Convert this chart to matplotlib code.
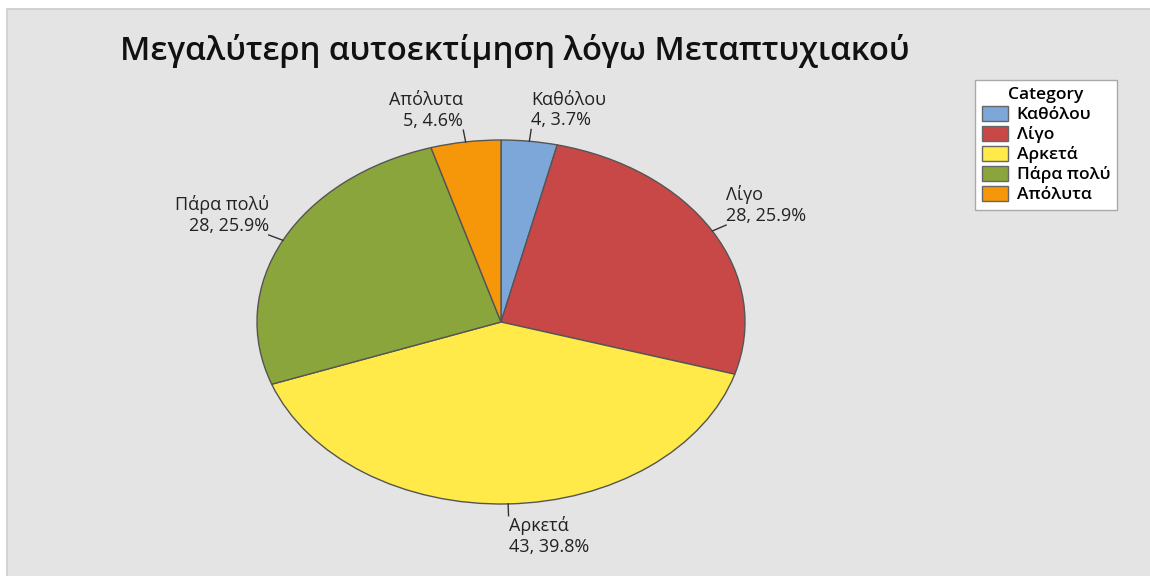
import numpy as np
import matplotlib
matplotlib.use('Agg')
import matplotlib.pyplot as plt
from matplotlib.patches import Rectangle, Patch

plt.rcParams['font.family'] = ['Open Sans', 'DejaVu Sans']

categories = ['Καθόλου', 'Λίγο', 'Αρκετά', 'Πάρα πολύ', 'Απόλυτα']
counts = [4, 28, 43, 28, 5]
colors = ['#7DA7D9', '#C84848', '#FFEA4A', '#8AA53B', '#F6970A']
title = 'Μεγαλύτερη αυτοεκτίμηση λόγω Μεταπτυχιακού'

fig = plt.figure(figsize=(11.5, 5.76), dpi=100)
fig.patch.set_facecolor('white')

# grey panel behind everything
fig.patches.append(Rectangle((7 / 1150, -0.01), 1, 1 - 9 / 576 + 0.01,
                             transform=fig.transFigure, facecolor='#E4E4E4',
                             edgecolor='#D2D2D2', lw=1.5, zorder=-5))

fig.text(120 / 1150, 1 - 51 / 576, title, fontsize=23.7, fontweight='semibold',
         va='center', ha='left', color='#111111')

# pie is stretched into an ellipse, so the axes box sets the shape
ax = fig.add_axes([257 / 1150, 72 / 576, 488 / 1150, 364 / 576])
ax.set_zorder(2)
ax.set_facecolor('none')
wedges, _ = ax.pie(counts, colors=colors, startangle=90, counterclock=False,
                   wedgeprops=dict(edgecolor='#555555', linewidth=1.0))
ax.set_aspect('auto')
ax.set_xlim(-1, 1)
ax.set_ylim(-1, 1)
ax.axis('off')

total = sum(counts)
for w, cat, n in zip(wedges, categories, counts):
    mid = np.deg2rad((w.theta1 + w.theta2) / 2)
    c, s = np.cos(mid), np.sin(mid)
    ax.plot([c * 1.0, c * 1.065], [s * 1.0, s * 1.065], color='#333333', lw=1,
            clip_on=False)
    ha = 'left' if c >= 0 else 'right'
    va = 'top' if s < -0.5 else 'bottom'
    ax.text(c * 1.065, s * 1.065, f'{cat}\n{n}, {n / total * 100:.1f}%',
            ha=ha, va=va, multialignment=ha, fontsize=13, color='#222222',
            linespacing=1.2)

handles = [Patch(facecolor=col, edgecolor='#666666', label=cat)
           for col, cat in zip(colors, categories)]
leg = fig.legend(handles=handles, title='Category', loc='upper left',
                 bbox_to_anchor=(975 / 1150, 1 - 80 / 576), frameon=True,
                 fancybox=False, framealpha=1, fontsize=12.5, title_fontsize=12.5,
                 handlelength=1.5, handleheight=0.95, handletextpad=0.5,
                 labelspacing=0.15, borderpad=0.4, borderaxespad=0)
leg.set_zorder(3)
leg.get_frame().set_edgecolor('#AAAAAA')
leg.get_frame().set_facecolor('white')
leg.get_title().set_fontweight('semibold')
for t in leg.get_texts():
    t.set_fontweight('semibold')

fig.savefig('out.png', dpi=100)
